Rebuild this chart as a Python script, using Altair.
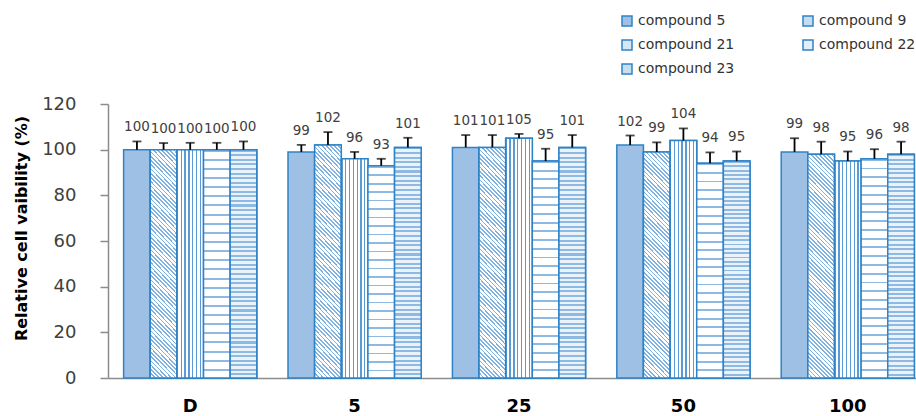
import altair as alt
import pandas as pd

# Doses on the x axis and the five compounds
doses = ["D", "5", "25", "50", "100"]
compounds = ["compound 5", "compound 9", "compound 21", "compound 22", "compound 23"]

# Mean relative viability (%) per compound, one value per dose
viability = {
    "compound 5": [100, 99, 101, 102, 99],
    "compound 9": [100, 102, 101, 99, 98],
    "compound 21": [100, 96, 105, 104, 95],
    "compound 22": [100, 93, 95, 94, 96],
    "compound 23": [100, 101, 101, 95, 98],
}
# Standard deviation (upper error bar) per compound, one value per dose
errors = {
    "compound 5": [3.6, 3.1, 5.4, 4.2, 6.0],
    "compound 9": [2.9, 5.7, 5.4, 4.2, 5.5],
    "compound 21": [3.0, 3.0, 1.9, 5.3, 4.2],
    "compound 22": [3.0, 3.0, 5.4, 4.8, 4.2],
    "compound 23": [3.6, 4.2, 5.4, 4.2, 5.5],
}

rows = []
for c in compounds:
    for d, v, e in zip(doses, viability[c], errors[c]):
        rows.append({"dose": d, "compound": c, "value": v, "upper": v + e})
df = pd.DataFrame(rows)

EDGE = "#2E82C6"
LINE = "#5B9BD5"
flat_fill = ["#9DC0E4", "#C6DCF1", "#D5E6F5", "#E4EEF8", "#C9DDF1"]


def stripe_stops(n, duty, fg, bg, end=1.0):
    """Hard-edged repeating stripes laid out over gradient offsets [0, end]."""
    stops = []
    for i in range(n):
        a = end * i / n
        b = end * (i + duty) / n
        c = end * (i + 1) / n
        stops += [
            alt.GradientStop(offset=a, color=fg),
            alt.GradientStop(offset=b, color=fg),
            alt.GradientStop(offset=b, color=bg),
            alt.GradientStop(offset=c, color=bg),
        ]
    if end < 1.0:
        stops.append(alt.GradientStop(offset=1.0, color=bg))
    return stops


# Hatch patterns drawn as striped gradients
slope = 8.3
diag = alt.Gradient(gradient="linear", x1=0, y1=1, x2=1, y2=1 - slope,
                    stops=stripe_stops(60, 0.4, "#7FB2E0", "#FFFFFF",
                                       end=(1 + slope) / (1 + slope ** 2)))
vert = alt.Gradient(gradient="linear", x1=0, y1=0, x2=1, y2=0,
                    stops=stripe_stops(7, 0.35, LINE, "#FFFFFF"))
rows22 = alt.Gradient(gradient="linear", x1=0, y1=0, x2=0, y2=1,
                      stops=stripe_stops(25, 0.22, "#8DB9E2", "#FFFFFF"))
rows23 = alt.Gradient(gradient="linear", x1=0, y1=0, x2=0, y2=1,
                      stops=stripe_stops(50, 0.45, "#8DB9E2", "#EAF2FA"))
patterns = {"compound 9": diag, "compound 21": vert,
            "compound 22": rows22, "compound 23": rows23}

x_enc = alt.X(
    "dose:N", sort=doses,
    scale=alt.Scale(range=[0, 822], paddingInner=0.19, paddingOuter=0.095),
    axis=alt.Axis(title=None, labelAngle=0, ticks=False, labelFont="DejaVu Sans",
                  labelFontSize=18, labelFontWeight="bold", labelColor="#000000",
                  labelPadding=19, domainColor="#8C8C8C", domainWidth=1.5),
)
xo_enc = alt.XOffset("compound:N", sort=compounds,
                     scale=alt.Scale(paddingInner=0, paddingOuter=0))
y_enc = alt.Y(
    "value:Q", scale=alt.Scale(domain=[0, 120]),
    axis=alt.Axis(title="Relative cell vaibility (%)", values=[0, 20, 40, 60, 80, 100, 120],
                  grid=False, tickSize=8, tickColor="#8C8C8C", domainColor="#8C8C8C",
                  domainWidth=1.5, tickWidth=1.5, labelFont="DejaVu Sans", labelFontSize=18,
                  labelColor="#404040", labelPadding=24, titleFont="DejaVu Sans",
                  titleFontSize=16, titleFontWeight="bold", titleColor="#000000",
                  titleAngle=-90, titleX=-87, titleY=124, titleAlign="center",
                  titleBaseline="middle"),
)

base = alt.Chart(df)

bars = base.mark_bar(stroke=EDGE, strokeWidth=1.5).encode(
    x=x_enc, xOffset=xo_enc, y=y_enc,
    fill=alt.Fill("compound:N", sort=compounds,
                  scale=alt.Scale(domain=compounds, range=flat_fill),
                  legend=alt.Legend(title=None, orient="none", legendX=512, legendY=-90,
                                    direction="horizontal", columns=2, columnPadding=65,
                                    rowPadding=8, symbolType="square", symbolSize=100,
                                    symbolStrokeColor=EDGE, symbolStrokeWidth=1.5,
                                    labelFont="DejaVu Sans", labelFontSize=14,
                                    labelColor="#333333", labelOffset=4, padding=0)),
)

hatches = [
    base.transform_filter(alt.datum.compound == c)
    .mark_bar(fill=g, stroke=EDGE, strokeWidth=1.5)
    .encode(x=x_enc, xOffset=xo_enc, y="value:Q")
    for c, g in patterns.items()
]

stems = base.mark_rule(color="#000000", strokeWidth=1.8).encode(
    x=x_enc, xOffset=xo_enc, y="value:Q", y2="upper:Q")
caps = base.mark_tick(color="#000000", thickness=1.8, size=9).encode(
    x=x_enc, xOffset=xo_enc, y="upper:Q")
labels = base.mark_text(dy=-10, baseline="alphabetic", fontSize=13.5,
                        font="DejaVu Sans", color="#404040").encode(
    x=x_enc, xOffset=xo_enc, y="upper:Q", text=alt.Text("value:Q", format="d"))

chart = (
    alt.layer(bars, *hatches, stems, caps, labels)
    .properties(width=808, height=274,
                autosize=alt.AutoSizeParams(type="none"),
                padding={"left": 108, "top": 104, "right": 0, "bottom": 38})
    .configure_view(strokeWidth=0)
)

chart.save("out.html", embed_options={"renderer": "svg", "actions": False})
